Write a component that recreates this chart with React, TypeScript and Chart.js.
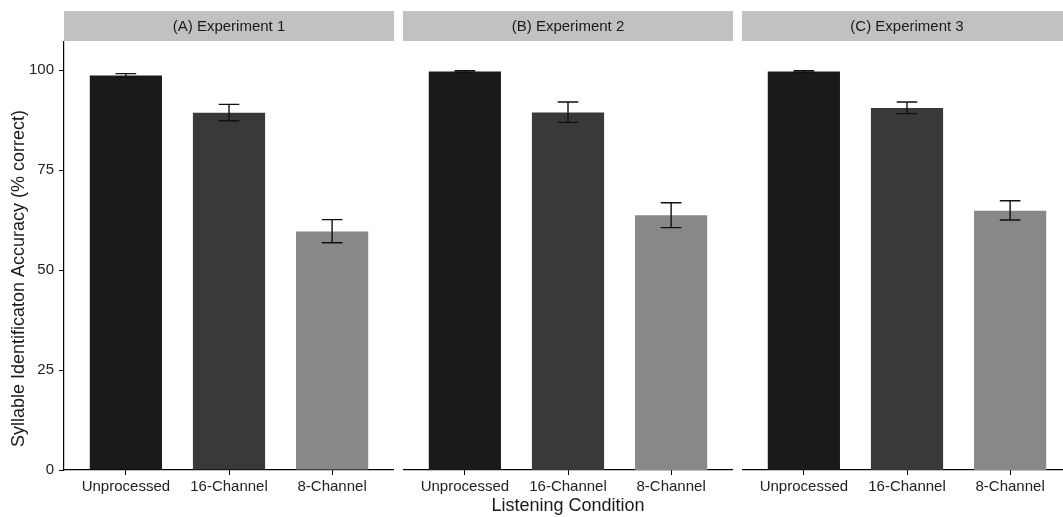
import React, { useEffect, useRef } from 'react';
import { Chart, registerables } from 'chart.js';

Chart.register(...registerables);

// ---- data ----
const conditions = ['Unprocessed', '16-Channel', '8-Channel'];
const panelTitles = ['(A) Experiment 1', '(B) Experiment 2', '(C) Experiment 3'];
const exp1Means = [98.6, 89.3, 59.6];
const exp1Lower = [98.1, 87.3, 56.8];
const exp1Upper = [99.1, 91.4, 62.6];
const exp2Means = [99.6, 89.4, 63.7];
const exp2Lower = [99.4, 86.9, 60.6];
const exp2Upper = [99.8, 92.0, 66.8];
const exp3Means = [99.6, 90.5, 64.8];
const exp3Lower = [99.4, 89.1, 62.5];
const exp3Upper = [99.8, 92.0, 67.3];
const yTicks = [0, 25, 50, 75, 100];
const yTitle = 'Syllable Identificaton Accuracy (% correct)';
const xTitle = 'Listening Condition';

const barColors = ['#1a1a1a', '#393939', '#888888'];
const FONT = "'Liberation Sans', Arial, Helvetica, sans-serif";

const panels = [
  { title: panelTitles[0], means: exp1Means, lower: exp1Lower, upper: exp1Upper, left: 0, width: 394, showY: true, showXTitle: false },
  { title: panelTitles[1], means: exp2Means, lower: exp2Lower, upper: exp2Upper, left: 403, width: 330, showY: false, showXTitle: true },
  { title: panelTitles[2], means: exp3Means, lower: exp3Lower, upper: exp3Upper, left: 742, width: 330, showY: false, showXTitle: false },
];

function Panel({ cfg }: { cfg: any }) {
  const ref = useRef<HTMLCanvasElement | null>(null);
  useEffect(() => {
    if (!ref.current) return;
    const stripPlugin = {
      id: 'strip',
      beforeDraw(chart: any) {
        const { ctx, chartArea } = chart;
        ctx.save();
        ctx.fillStyle = '#c1c1c1';
        ctx.fillRect(chartArea.left, 11, chartArea.right - chartArea.left, 30);
        ctx.fillStyle = '#1a1a1a';
        ctx.font = `15px ${FONT}`;
        ctx.textAlign = 'center';
        ctx.textBaseline = 'middle';
        ctx.fillText(cfg.title, (chartArea.left + chartArea.right) / 2, 26.5);
        ctx.restore();
      },
    };
    const errorPlugin = {
      id: 'errbars',
      afterDatasetsDraw(chart: any) {
        const { ctx } = chart;
        const xs = chart.scales.x;
        const ys = chart.scales.y;
        const half = xs.getPixelForValue(1.1) - xs.getPixelForValue(1);
        ctx.save();
        ctx.strokeStyle = '#111111';
        ctx.lineWidth = 1.4;
        cfg.means.forEach((_: number, i: number) => {
          const x = xs.getPixelForValue(i + 1);
          const yl = ys.getPixelForValue(cfg.lower[i]);
          const yu = ys.getPixelForValue(cfg.upper[i]);
          ctx.beginPath();
          ctx.moveTo(x, yl);
          ctx.lineTo(x, yu);
          ctx.moveTo(x - half, yl);
          ctx.lineTo(x + half, yl);
          ctx.moveTo(x - half, yu);
          ctx.lineTo(x + half, yu);
          ctx.stroke();
        });
        ctx.restore();
      },
    };
    const chart = new Chart(ref.current, {
      type: 'bar',
      data: {
        datasets: [
          {
            data: cfg.means.map((v: number, i: number) => ({ x: i + 1, y: v })),
            backgroundColor: barColors,
            borderWidth: 0,
            barPercentage: 0.7,
            categoryPercentage: 1,
          },
        ],
      },
      options: {
        animation: false,
        responsive: false,
        maintainAspectRatio: false,
        layout: { padding: { top: 42, left: 0, right: 0, bottom: 0 } },
        plugins: { legend: { display: false }, tooltip: { enabled: false }, title: { display: false } },
        scales: {
          x: {
            type: 'linear',
            offset: false,
            min: 0.4,
            max: 3.6,
            afterBuildTicks: (scale: any) => {
              scale.ticks = conditions.map((_, i) => ({ value: i + 1 }));
            },
            afterFit: (scale: any) => {
              scale.height = 47;
            },
            ticks: {
              autoSkip: false,
              maxRotation: 0,
              padding: 3,
              color: '#222222',
              font: { family: FONT, size: 15 },
              callback: (v: any) => conditions[Number(v) - 1] ?? '',
            },
            grid: { offset: false, drawOnChartArea: false, drawTicks: true, tickLength: 5, color: '#000000', lineWidth: 1 },
            border: { display: true, color: '#000000', width: 1.2 },
            title: {
              display: cfg.showXTitle,
              text: xTitle,
              color: '#1a1a1a',
              font: { family: FONT, size: 18 },
              padding: { top: 0, bottom: 0 },
            },
          },
          y: {
            display: cfg.showY,
            min: 0,
            max: 107,
            afterBuildTicks: (scale: any) => {
              scale.ticks = yTicks.map((v) => ({ value: v }));
            },
            afterFit: (scale: any) => {
              scale.width = cfg.showY ? 64 : 0;
            },
            ticks: {
              padding: 5,
              color: '#222222',
              font: { family: FONT, size: 15 },
            },
            grid: { drawOnChartArea: false, drawTicks: true, tickLength: 5, color: '#000000', lineWidth: 1 },
            border: { display: true, color: '#000000', width: 1.2 },
            title: {
              display: true,
              text: yTitle + '         ',
              color: '#1a1a1a',
              font: { family: FONT, size: 18 },
              padding: { top: 8, bottom: 0 },
            },
          },
        },
      } as any,
      plugins: [stripPlugin, errorPlugin],
    });
    return () => chart.destroy();
  }, [cfg]);
  return (
    <canvas
      ref={ref}
      width={cfg.width}
      height={517}
      style={{ position: 'absolute', left: cfg.left, top: 0, width: cfg.width, height: 517 }}
    />
  );
}

export default function App() {
  return (
    <div
      style={{
        position: 'fixed',
        left: 0,
        top: 0,
        width: 1063,
        height: 517,
        overflow: 'hidden',
        background: '#ffffff',
      }}
    >
      {panels.map((p, i) => (
        <Panel key={i} cfg={p} />
      ))}
    </div>
  );
}
